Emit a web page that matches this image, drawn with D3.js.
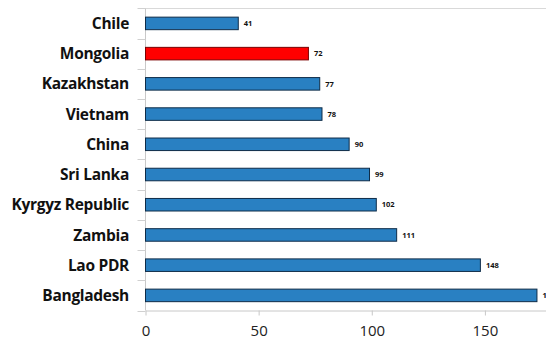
<!DOCTYPE html>
<html><head><meta charset="utf-8">
<script src="https://cdn.jsdelivr.net/npm/d3@7/dist/d3.min.js"></script>
<style>body{margin:0;background:#fff}svg{display:block}</style>
</head><body>
<script>
const categories = ["Chile","Mongolia","Kazakhstan","Vietnam","China","Sri Lanka","Kyrgyz Republic","Zambia","Lao PDR","Bangladesh"];
const values = [41,72,77,78,90,99,102,111,148,173];
const highlight = ["Mongolia"];
const xTicks = [0,50,100,150];

const W = 546, H = 339;
const svg = d3.select("body").append("svg").attr("width", W).attr("height", H);
const x = d3.scaleLinear().domain([0,177]).range([145.5, 546]);
const y = d3.scaleBand().domain(categories).range([8.3, 310.5]).paddingInner(0.585).paddingOuter(0.2925);

// top border line
svg.append("line").attr("x1",145.5).attr("x2",546).attr("y1",8.5).attr("y2",8.5).attr("stroke","#d9d9d9").attr("stroke-width",1.2);

// x axis
const xa = svg.append("g").attr("transform","translate(0,310.5)")
  .call(d3.axisBottom(x).tickValues(xTicks).tickSize(5).tickSizeOuter(0).tickPadding(10));
xa.select(".domain").attr("stroke","#c8c8c8");
xa.selectAll(".tick line").attr("stroke","#c8c8c8");
xa.selectAll("text").attr("font-family","'Open Sans', sans-serif").attr("font-size",15).attr("fill","#222");

// y axis with ticks at band boundaries
const bounds = categories.map(c => y(c) - y.step()*y.paddingInner()/2).concat([310.5]);
svg.append("line").attr("x1",145.5).attr("x2",145.5).attr("y1",8.3).attr("y2",310.5).attr("stroke","#c8c8c8");
svg.selectAll(".ytick").data(bounds).join("line")
  .attr("x1",137.5).attr("x2",145.5).attr("y1",d=>Math.round(d)+0.5).attr("y2",d=>Math.round(d)+0.5).attr("stroke","#d0d0d0");

// category labels
svg.selectAll(".cat").data(categories).join("text")
  .attr("x",129).attr("y",d=>y(d)+y.bandwidth()/2).attr("dy","0.36em")
  .attr("text-anchor","end").attr("font-family","'Open Sans', sans-serif").attr("font-weight","bold")
  .attr("font-size",15.5).attr("fill","#111").attr("letter-spacing","-0.3").text(d=>d);

// bars
const data = categories.map((c,i)=>({c, v: values[i]}));
svg.selectAll(".bar").data(data).join("rect")
  .attr("x",x(0)).attr("y",d=>y(d.c)).attr("width",d=>x(d.v)-x(0)).attr("height",y.bandwidth())
  .attr("fill",d=>highlight.includes(d.c)?"#ff0000":"#2980c2")
  .attr("stroke",d=>highlight.includes(d.c)?"#7a0000":"#0f2c48").attr("stroke-width",1);

// value labels
svg.selectAll(".val").data(data).join("text")
  .attr("x",d=>x(d.v)+5.5).attr("y",d=>y(d.c)+y.bandwidth()/2).attr("dy","0.36em")
  .attr("font-family","'Open Sans', sans-serif").attr("font-weight","bold").attr("font-size",7.5).attr("fill","#111")
  .text(d=>d.v);
</script>
</body></html>
